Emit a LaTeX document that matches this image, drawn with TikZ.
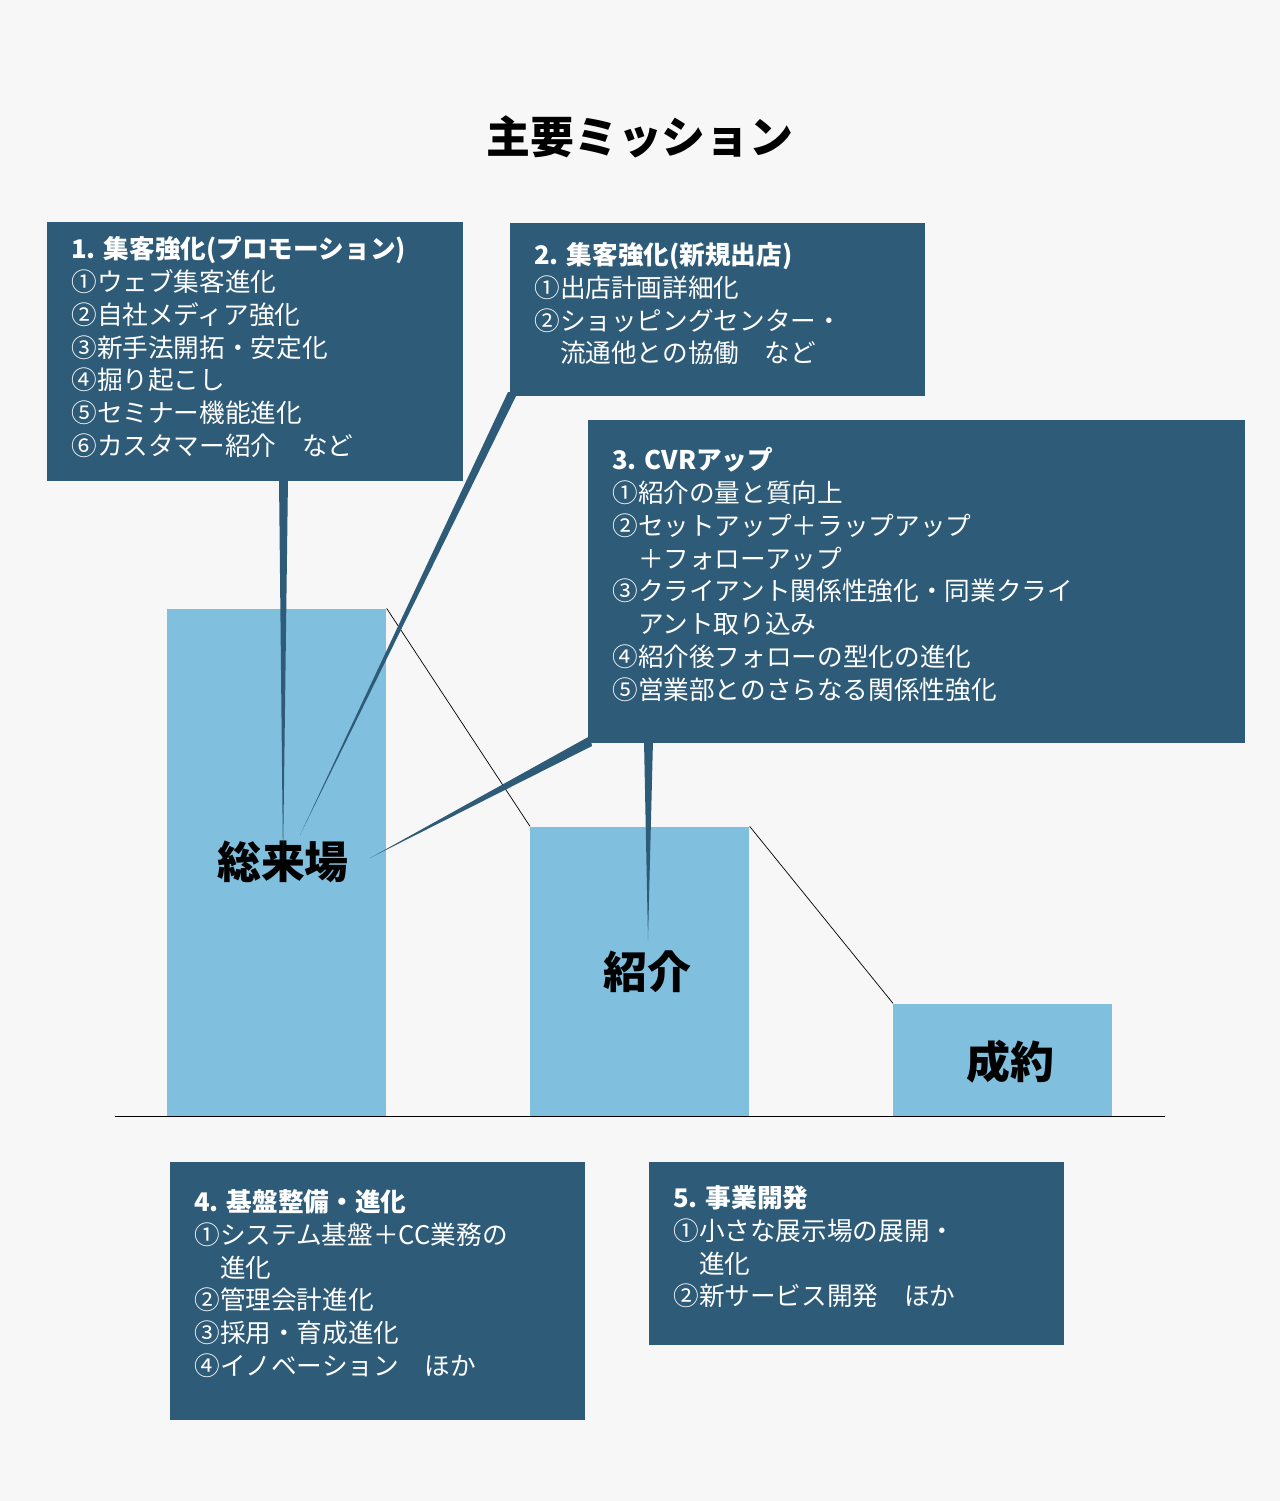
\documentclass[tikz,border=0pt]{standalone}
\usepackage{fontspec}
\setmainfont{Noto Sans CJK JP}
\usepackage{xcolor}
\usetikzlibrary{positioning}
\definecolor{panelblue}{HTML}{2E5B78}
\definecolor{barblue}{HTML}{80C0DE}
\definecolor{paper}{HTML}{F7F7F7}

\begin{document}
\begin{tikzpicture}[x=0.02cm, y=-0.02cm,
        panel/.style={draw=none, fill=panelblue, anchor=north west, inner sep=0pt},
        paneltext/.style={text=white, anchor=north west, align=left, inner sep=0pt,
            font=\fontsize{14.6}{18.7}\selectfont},
        bar/.style={fill=barblue, draw=none, anchor=south west, inner sep=0pt},
        barlabel/.style={font=\fontsize{25}{30}\selectfont\bfseries}]

        \fill[paper] (0,0) rectangle (1280,1501);
        \useasboundingbox (0,0) rectangle (1280,1501);
        \node[font=\fontsize{25}{30}\selectfont\bfseries] (title) at (640,137) {主要ミッション};

        % bars
        \node[bar, minimum width=4.38cm, minimum height=10.14cm] (visit) at (167,1116) {};
        \node[bar, minimum width=4.38cm, minimum height=5.78cm] (intro) at (530,1116) {};
        \node[bar, minimum width=4.38cm, minimum height=2.24cm] (deal) at (893,1116) {};
        \draw (115,1116) -- (1165,1116);
        \draw (visit.north east) -- (intro.north west);
        \draw (intro.north east) -- (deal.north west);
        \node[barlabel] (visitlabel) at (283,862) {総来場};
        \node[barlabel] (introlabel) at (647,972) {紹介};
        \node[barlabel] (deallabel) at (1010,1062) {成約};

        % panels
        \node[panel, minimum width=8.32cm, minimum height=5.18cm] (m1) at (47,222) {};
        \node[panel, minimum width=8.30cm, minimum height=3.46cm] (m2) at (510,223) {};
        \node[panel, minimum width=13.14cm, minimum height=6.46cm] (m3) at (588,420) {};
        \node[panel, minimum width=8.30cm, minimum height=5.16cm] (m4) at (170,1162) {};
        \node[panel, minimum width=8.30cm, minimum height=3.66cm] (m5) at (649,1162) {};

        % pointers
        \fill[panelblue] (279,478) -- (288,478) -- (visitlabel.center) -- cycle;
        \fill[panelblue] (508,392) -- (518,392) -- (300,835) -- cycle;
        \fill[panelblue] (590,736) -- (592,746) -- (370,858) -- cycle;
        \fill[panelblue] (644,740) -- (653,740) -- (648,940) -- cycle;

        \node[paneltext] (t1) at (71,236) {\textbf{1. 集客強化(プロモーション)}\\①ウェブ集客進化\\②自社メディア強化\\③新手法開拓・安定化\\④掘り起こし\\⑤セミナー機能進化\\⑥カスタマー紹介　など};
        \node[paneltext] (t2) at (534,242) {\textbf{2. 集客強化(新規出店)}\\①出店計画詳細化\\②ショッピングセンター・\\　流通他との協働　など};
        \node[paneltext] (t3) at (612,447) {\textbf{3. CVRアップ}\\①紹介の量と質向上\\②セットアップ＋ラップアップ\\　＋フォローアップ\\③クライアント関係性強化・同業クライ\\　アント取り込み\\④紹介後フォローの型化の進化\\⑤営業部とのさらなる関係性強化};
        \node[paneltext] (t4) at (194,1189) {\textbf{4. 基盤整備・進化}\\①システム基盤＋CC業務の\\　進化\\②管理会計進化\\③採用・育成進化\\④イノベーション　ほか};
        \node[paneltext] (t5) at (673,1185) {\textbf{5. 事業開発}\\①小さな展示場の展開・\\　進化\\②新サービス開発　ほか};
\end{tikzpicture}
\end{document}
